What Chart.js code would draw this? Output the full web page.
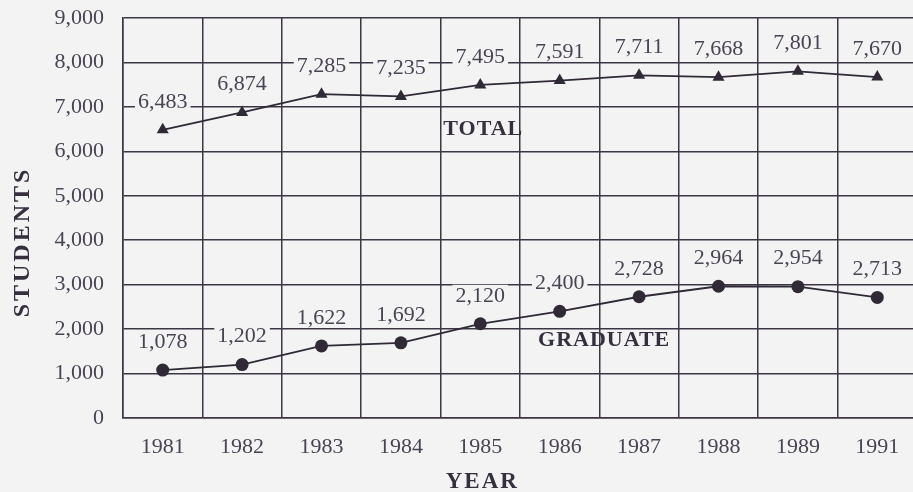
<!DOCTYPE html>
<html>
<head>
<meta charset="utf-8">
<script src="https://cdn.jsdelivr.net/npm/chart.js@4/dist/chart.umd.min.js"></script>
<style>
    html, body { margin: 0; padding: 0; background: #f3f3f4; overflow: hidden; }
    #wrap { width: 913px; height: 492px; overflow: hidden; }
    canvas { display: block; }
</style>
</head>
<body>
<div id="wrap"><canvas id="enrollChart" width="924" height="492"></canvas></div>
<script>
// Enrollment data
const years = ['1981', '1982', '1983', '1984', '1985', '1986', '1987', '1988', '1989', '1991'];
const totalStudents = [6483, 6874, 7285, 7235, 7495, 7591, 7711, 7668, 7801, 7670];
const graduateStudents = [1078, 1202, 1622, 1692, 2120, 2400, 2728, 2964, 2954, 2713];
const yTicks = [0, 1000, 2000, 3000, 4000, 5000, 6000, 7000, 8000, 9000];

const BG = '#f3f3f4';
const INK = '#2f2a36';
const TEXT = '#4a4452';
const SERIF = '"Liberation Serif", "Times New Roman", serif';

// Value labels above each point, boxed with the page colour so gridlines break around them
const valueLabels = {
    id: 'valueLabels',
    afterDatasetsDraw(chart) {
        const ctx = chart.ctx;
        ctx.save();
        ctx.font = '22px ' + SERIF;
        ctx.textAlign = 'center';
        ctx.textBaseline = 'middle';
        chart.data.datasets.forEach((ds, i) => {
            chart.getDatasetMeta(i).data.forEach((pt, j) => {
                const text = ds.data[j].toLocaleString('en-US');
                const w = ctx.measureText(text).width;
                const y = pt.y - 29;
                ctx.fillStyle = BG;
                ctx.fillRect(pt.x - w / 2 - 3, y - 10, w + 6, 20);
                ctx.fillStyle = TEXT;
                ctx.fillText(text, pt.x, y + 1);
            });
        });
        ctx.restore();
    }
};

// Series names and axis titles
const captions = {
    id: 'captions',
    afterDraw(chart) {
        const ctx = chart.ctx;
        const x = chart.scales.x;
        const y = chart.scales.y;
        ctx.save();
        ctx.fillStyle = '#36303e';
        ctx.textAlign = 'center';
        ctx.textBaseline = 'middle';
        ctx.font = 'bold 22px ' + SERIF;
        ctx.letterSpacing = '1px';
        ctx.fillText('TOTAL', x.getPixelForValue(4) + 3, y.getPixelForValue(6500));
        ctx.fillText('GRADUATE', x.getPixelForValue(5.56), y.getPixelForValue(1750));

        ctx.font = 'bold 23px ' + SERIF;
        ctx.letterSpacing = '2px';
        ctx.fillText('YEAR', x.getPixelForValue(4) + 2, 482);

        ctx.translate(23, 242);
        ctx.rotate(-Math.PI / 2);
        ctx.font = 'bold 24px ' + SERIF;
        ctx.letterSpacing = '3px';
        ctx.fillText('STUDENTS', 0, 0);
        ctx.restore();
    }
};

function initializeChart() {
    const ctx = document.getElementById('enrollChart').getContext('2d');
    new Chart(ctx, {
        type: 'line',
        data: {
            labels: years,
            datasets: [{
                label: 'TOTAL',
                data: totalStudents,
                borderColor: INK,
                backgroundColor: INK,
                borderWidth: 1.8,
                pointStyle: 'triangle',
                pointRadius: 7,
                pointBorderWidth: 0,
                tension: 0
            }, {
                label: 'GRADUATE',
                data: graduateStudents,
                borderColor: INK,
                backgroundColor: INK,
                borderWidth: 1.8,
                pointStyle: 'circle',
                pointRadius: 6.5,
                pointBorderWidth: 0,
                tension: 0
            }]
        },
        options: {
            responsive: false,
            animation: false,
            layout: { padding: { top: 18, right: 4, left: 0, bottom: 0 } },
            plugins: {
                legend: { display: false },
                tooltip: { enabled: false }
            },
            scales: {
                x: {
                    offset: true,
                    grid: { offset: true, color: '#3c3644', lineWidth: 1.5, drawTicks: false },
                    border: { color: '#3c3644', width: 1.5 },
                    ticks: { color: TEXT, padding: 16, font: { family: SERIF, size: 22 } },
                    afterFit: (scale) => {
                        scale.height = 74;
                        scale.paddingLeft = 0;
                        scale.paddingRight = 0;
                    }
                },
                y: {
                    min: 0,
                    max: 9000,
                    afterBuildTicks: (scale) => { scale.ticks = yTicks.map(v => ({ value: v })); },
                    grid: { color: '#3c3644', lineWidth: 1.5, drawTicks: false },
                    border: { color: '#3c3644', width: 1.5 },
                    ticks: {
                        color: TEXT,
                        padding: 19,
                        font: { family: SERIF, size: 22 },
                        callback: (v) => v.toLocaleString('en-US')
                    },
                    afterFit: (scale) => {
                        // keep the tick gap from pushing the plot down
                        scale.width = 123;
                        scale.paddingTop = 0;
                        scale.paddingBottom = 0;
                    }
                }
            }
        },
        plugins: [valueLabels, captions]
    });
}

document.addEventListener('DOMContentLoaded', initializeChart);
</script>
</body>
</html>
